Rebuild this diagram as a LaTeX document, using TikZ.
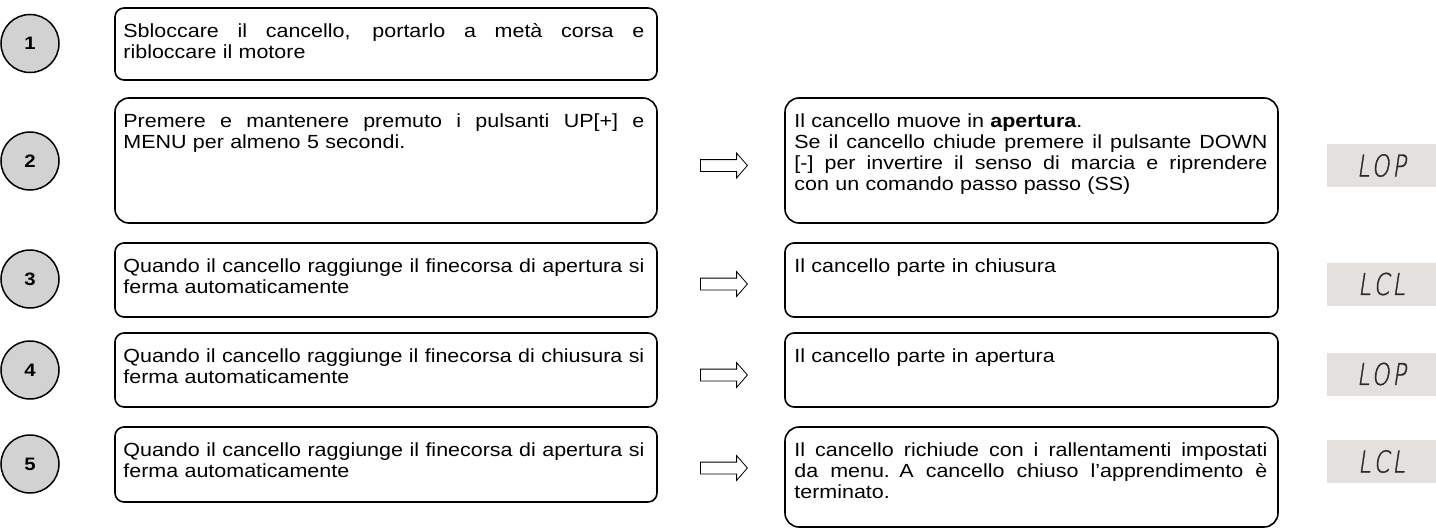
\documentclass[tikz,border=0pt]{standalone}
\usepackage{fontspec}
\setmainfont{Liberation Sans}[FakeStretch=1.13]
\newfontfamily\lcdfont[FakeSlant=0.15,FakeStretch=0.75,FakeBold=1.2,LetterSpace=10]{DejaVu Sans ExtraLight}
\usetikzlibrary{shapes.arrows}
\definecolor{stepgray}{HTML}{D2D2D2}
\definecolor{lcdgray}{HTML}{E3E0DD}
\definecolor{lcdink}{HTML}{2A2A2A}
\newcommand{\fullrow}[1]{{\spaceskip=\fontdimen2\font plus 1fil\makebox[\linewidth][s]{#1}}\\}

\begin{document}
\begin{tikzpicture}[x=1pt,y=-1pt,
  every node/.style={font=\fontsize{19}{21}\selectfont},
  stepnum/.style={circle,draw,line width=1.5pt,fill=stepgray,minimum size=58pt,inner sep=0pt,font=\fontsize{18}{22}\selectfont\bfseries},
  lbox/.style={draw,line width=1.6pt,rounded corners=9pt,minimum width=542pt,inner sep=0pt},
  rbox/.style={draw,line width=1.6pt,rounded corners=9pt,minimum width=493pt,inner sep=0pt},
  ltext/.style={anchor=north west,inner sep=0pt,text width=521pt,align=left,execute at begin node=\strut},
  rtext/.style={anchor=north west,inner sep=0pt,text width=473pt,align=left,execute at begin node=\strut},
  blockarrow/.style={single arrow,draw,line width=0.8pt,anchor=tail,minimum height=47pt,inner xsep=0pt,inner ysep=5.5pt,single arrow head extend=6.5pt,single arrow tip angle=98},
  lcd/.style={fill=lcdgray,text=lcdink,minimum width=109pt,minimum height=43pt,inner sep=0pt,font=\lcdfont\fontsize{30}{30}\selectfont}]
\useasboundingbox (0,0) rectangle (1436,530);

\node [stepnum] (n1) at (30,43.5) {1};
\node [stepnum] (n2) at (30,161) {2};
\node [stepnum] (n3) at (30,279) {3};
\node [stepnum] (n4) at (30,370) {4};
\node [stepnum] (n5) at (30,464) {5};

\node [lbox,minimum height=72pt] (box1) at (386,44) {};
\node [lbox,minimum height=125pt,rounded corners=14pt] (box2) at (386,160.5) {};
\node [lbox,minimum height=74pt] (box3) at (386,280) {};
\node [lbox,minimum height=74pt] (box4) at (386,370) {};
\node [lbox,minimum height=75pt] (box5) at (386,464.5) {};

\node [ltext] (txt1) at ([shift={(9pt,-15pt)}]box1.north west) {\fullrow{Sbloccare il cancello, portarlo a metà corsa e}ribloccare il motore};
\node [ltext] (txt2) at ([shift={(9pt,-15pt)}]box2.north west) {\fullrow{Premere e mantenere premuto i pulsanti UP[+] e}MENU per almeno 5 secondi.};
\node [ltext] (txt3) at ([shift={(9pt,-15pt)}]box3.north west) {\fullrow{Quando il cancello raggiunge il finecorsa di apertura si}ferma automaticamente};
\node [ltext] (txt4) at ([shift={(9pt,-15pt)}]box4.north west) {\fullrow{Quando il cancello raggiunge il finecorsa di chiusura si}ferma automaticamente};
\node [ltext] (txt5) at ([shift={(9pt,-15pt)}]box5.north west) {\fullrow{Quando il cancello raggiunge il finecorsa di apertura si}ferma automaticamente};

\node [blockarrow] (arr2) at (700,165.5) {};
\node [blockarrow] (arr3) at (700,284) {};
\node [blockarrow] (arr4) at (700,375) {};
\node [blockarrow] (arr5) at (700,468) {};

\node [rbox,minimum height=125pt,rounded corners=14pt] (res2) at (1031.5,160.5) {};
\node [rbox,minimum height=74pt] (res3) at (1031.5,280) {};
\node [rbox,minimum height=74pt] (res4) at (1031.5,370) {};
\node [rbox,minimum height=100pt,rounded corners=14pt] (res5) at (1031.5,477) {};

\node [rtext] (out2) at ([shift={(10pt,-15pt)}]res2.north west) {Il cancello muove in \textbf{apertura}.\\\fullrow{Se il cancello chiude premere il pulsante DOWN}\fullrow{[-] per invertire il senso di marcia e riprendere}con un comando passo passo (SS)};
\node [rtext] (out3) at ([shift={(10pt,-15pt)}]res3.north west) {Il cancello parte in chiusura};
\node [rtext] (out4) at ([shift={(10pt,-15pt)}]res4.north west) {Il cancello parte in apertura};
\node [rtext] (out5) at ([shift={(10pt,-15pt)}]res5.north west) {\fullrow{Il cancello richiude con i rallentamenti impostati}\fullrow{da menu. A cancello chiuso l’apprendimento è}terminato.};

\node [lcd] (lcd2) at (1381.5,165.5) {LOP};
\node [lcd] (lcd3) at (1381.5,284) {LCL};
\node [lcd] (lcd4) at (1381.5,374) {LOP};
\node [lcd] (lcd5) at (1381.5,461.5) {LCL};
\end{tikzpicture}
\end{document}
